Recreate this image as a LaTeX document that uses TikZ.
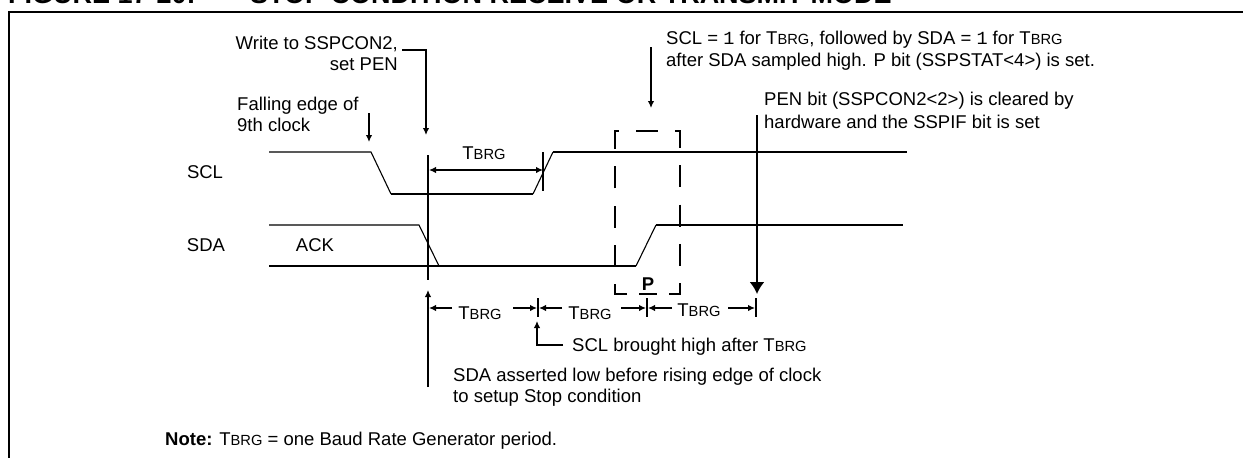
\documentclass[tikz,border=0pt]{standalone}
\usepackage{fontspec}
\setmainfont{Liberation Sans}
\setmonofont{Liberation Mono}
\usetikzlibrary{arrows.meta}
\newcommand{\Tbrg}{T{\fontsize{14.7}{16}\selectfont BRG}}
\tikzset{
  label_text/.style={inner sep=0pt, anchor=base west, font=\fontsize{18.5}{21}\selectfont},
  label_right/.style={label_text, anchor=base east},
  label_mid/.style={label_text, anchor=base},
  title_text/.style={inner sep=0pt, anchor=base west, font=\fontsize{27}{30}\selectfont\bfseries},
  frame_edge/.style={line width=2.2pt, line cap=butt},
  thin_edge/.style={line width=1.1pt},
  edge/.style={line width=2pt, line join=miter},
  mark_edge/.style={line width=1.8pt},
  arrow_edge/.style={line width=1.8pt, -{Latex[length=7pt, width=6.5pt]}},
  double_edge/.style={line width=1.8pt, {Latex[length=7pt, width=6.5pt]}-{Latex[length=7pt, width=6.5pt]}},
  big_arrow_edge/.style={line width=1.9pt, -{Latex[length=12pt, width=15pt]}},
  dashed_edge/.style={line width=2pt, dash pattern=on 22pt off 17.2pt}
}
\begin{document}
\begin{tikzpicture}[x=1pt, y=-1pt]
        \useasboundingbox (0, 0) rectangle (1243, 458);
        \node[title_text] (20) at (8, 3) {FIGURE 17-20:};
        \node[title_text] (21) at (250, 3) {STOP CONDITION RECEIVE OR TRANSMIT MODE};
        \coordinate (0) at (9, 458);
        \coordinate (1) at (9, 12);
        \coordinate (2) at (1243, 12);
        \draw[frame_edge] (0) -- (1) -- (2);
        % scl
        \coordinate (3) at (269, 152);
        \coordinate (4) at (371, 152);
        \coordinate (5) at (391, 194);
        \coordinate (6) at (533, 194);
        \coordinate (7) at (553, 152);
        \coordinate (8) at (907, 152);
        \draw[thin_edge] (3) -- (4) -- (5);
        \draw[edge] (5) -- (6);
        \draw[thin_edge] (6) -- (7);
        \draw[edge] (7) -- (8);
        % sda
        \coordinate (9) at (269, 225);
        \coordinate (10) at (419, 225);
        \coordinate (11) at (439, 266);
        \coordinate (12) at (269, 266);
        \coordinate (13) at (636, 266);
        \coordinate (14) at (656, 225);
        \coordinate (15) at (903, 225);
        \draw[thin_edge] (9) -- (10) -- (11);
        \draw[edge] (12) -- (13);
        \draw[thin_edge] (13) -- (14);
        \draw[edge] (14) -- (15);
        \node[label_mid] (22) at (205, 178) {SCL};
        \node[label_mid] (23) at (206, 251) {SDA};
        \node[label_mid] (24) at (315, 251) {ACK};
        % upper notes
        \node[label_right] (25) at (398, 49) {Write to SSPCON2,};
        \node[label_right] (26) at (398, 70) {set PEN};
        \node[label_text] (27) at (237, 110) {Falling edge of};
        \node[label_text] (28) at (237, 131) {9th clock};
        \node[label_text] (29) at (666, 44) {SCL = {\ttfamily 1} for \Tbrg, followed by SDA = {\ttfamily 1} for \Tbrg};
        \node[label_text] (30) at (666, 66) {after SDA sampled high. P bit (SSPSTAT<4>) is set.};
        \node[label_text] (31) at (764, 105) {PEN bit (SSPCON2<2>) is cleared by};
        \node[label_text] (32) at (764, 128) {hardware and the SSPIF bit is set};
        \coordinate (33) at (402, 50);
        \coordinate (34) at (426, 50);
        \coordinate (35) at (426, 135);
        \draw[arrow_edge] (33) -- (34) -- (35);
        \coordinate (36) at (369, 113);
        \coordinate (37) at (369, 142);
        \draw[arrow_edge] (36) -- (37);
        \coordinate (38) at (651, 47);
        \coordinate (39) at (651, 108);
        \draw[arrow_edge] (38) -- (39);
        \coordinate (40) at (757, 115);
        \coordinate (41) at (757, 294);
        \draw[big_arrow_edge] (40) -- (41);
        % first period
        \coordinate (42) at (428, 155);
        \coordinate (43) at (428, 280);
        \draw[mark_edge] (42) -- (43);
        \coordinate (44) at (543, 152);
        \coordinate (45) at (543, 191);
        \draw[mark_edge] (44) -- (45);
        \coordinate (46) at (429, 170);
        \coordinate (47) at (543, 170);
        \draw[double_edge] (46) -- (47);
        \node[label_mid] (48) at (484, 159) {\Tbrg};
        % stop box
        \coordinate (49) at (627, 294);
        \coordinate (50) at (615, 294);
        \coordinate (51) at (615, 131);
        \coordinate (52) at (680, 131);
        \coordinate (53) at (680, 294);
        \coordinate (54) at (669, 294);
        \draw[dashed_edge] (49) -- (50) -- (51) -- (52) -- (53) -- (54);
        \node[label_mid, font=\fontsize{18.5}{21}\selectfont\bfseries] (55) at (648, 290) {P};
        \coordinate (56) at (639, 294);
        \coordinate (57) at (657, 294);
        \draw[dashed_edge, dash pattern=] (56) -- (57);
        % lower periods
        \coordinate (58) at (428, 290);
        \coordinate (59) at (428, 387);
        \draw[arrow_edge] (59) -- (58);
        \coordinate (60) at (538, 298);
        \coordinate (61) at (538, 317);
        \draw[mark_edge] (60) -- (61);
        \coordinate (62) at (647, 298);
        \coordinate (63) at (647, 317);
        \draw[mark_edge] (62) -- (63);
        \coordinate (64) at (756, 298);
        \coordinate (65) at (756, 317);
        \draw[mark_edge] (64) -- (65);
        \node[label_mid] (66) at (480, 319) {\Tbrg};
        \node[label_mid] (67) at (590, 319) {\Tbrg};
        \node[label_mid] (68) at (699, 316) {\Tbrg};
        \coordinate (69) at (452, 308);
        \coordinate (70) at (429, 308);
        \coordinate (71) at (513, 308);
        \coordinate (72) at (537, 308);
        \coordinate (73) at (562, 308);
        \coordinate (74) at (539, 308);
        \coordinate (75) at (621, 308);
        \coordinate (76) at (646, 308);
        \coordinate (77) at (672, 308);
        \coordinate (78) at (648, 308);
        \coordinate (79) at (728, 308);
        \coordinate (80) at (755, 308);
        \draw[arrow_edge] (69) -- (70);
        \draw[arrow_edge] (71) -- (72);
        \draw[arrow_edge] (73) -- (74);
        \draw[arrow_edge] (75) -- (76);
        \draw[arrow_edge] (77) -- (78);
        \draw[arrow_edge] (79) -- (80);
        % lower notes
        \coordinate (81) at (563, 345);
        \coordinate (82) at (537, 345);
        \coordinate (83) at (537, 321);
        \draw[arrow_edge] (81) -- (82) -- (83);
        \node[label_text] (84) at (572, 351) {SCL brought high after \Tbrg};
        \node[label_text] (85) at (453, 381) {SDA asserted low before rising edge of clock};
        \node[label_text] (86) at (453, 402) {to setup Stop condition};
        \node[label_text] (87) at (165, 445) {\textbf{Note:} \Tbrg{} = one Baud Rate Generator period.};
    \end{tikzpicture}
\end{document}
